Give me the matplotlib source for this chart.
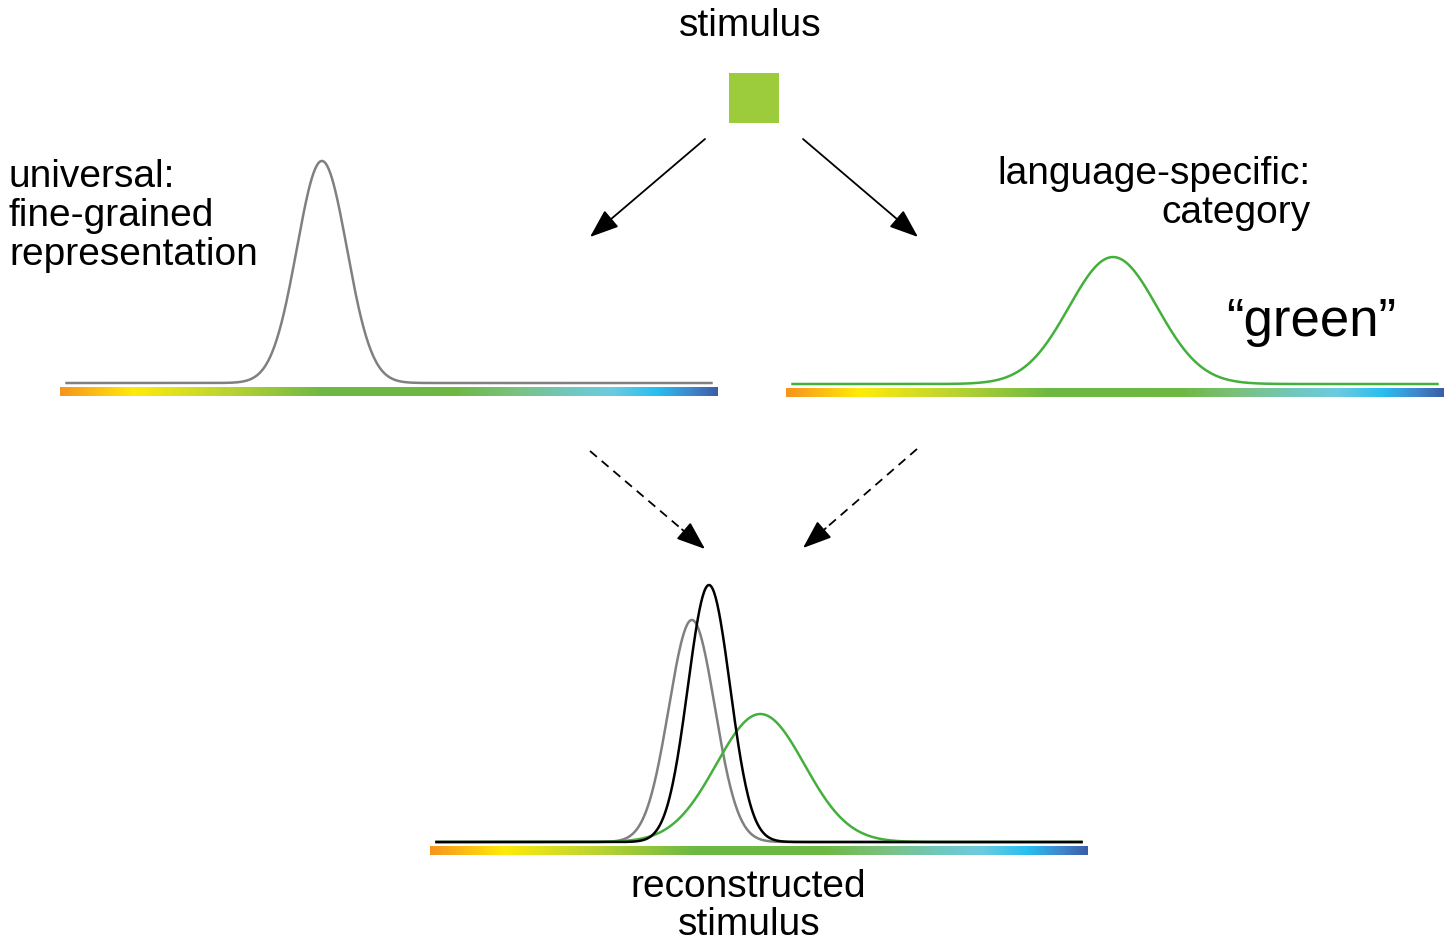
import numpy as np
import matplotlib
matplotlib.use("Agg")
import matplotlib.pyplot as plt
from matplotlib.colors import LinearSegmentedColormap

plt.rcParams['font.family'] = ['Liberation Sans', 'DejaVu Sans']

W, H = 1450, 943

# spectrum gradient (position along bar, colour)
spec_pos = [0.0, 0.11, 0.25, 0.40, 0.60, 0.69, 0.78, 0.84, 0.91, 0.96, 1.0]
spec_col = ['#F7941D', '#FFEB0A', '#BCD431', '#6DB843', '#6DB843', '#7BC17E',
            '#70C8C0', '#6CCBE0', '#27BEF0', '#3F88CC', '#3B5EA9']

# curves: centre on spectrum (0..1), sd, peak height (1 = tallest peak)
univ_mu, univ_sd, univ_h = 0.398, 0.038, 0.864
cat_mu, cat_sd, cat_h = 0.497, 0.067, 0.494
rec_gray = (0.398, 0.035, 0.864)
rec_green = (0.502, 0.067, 0.498)
rec_black = (0.424, 0.032, 1.0)

gray = '#808080'
green = '#43B03B'

cmap = LinearSegmentedColormap.from_list('spec', list(zip(spec_pos, spec_col)))

fig = plt.figure(figsize=(W / 100, H / 100), dpi=100)
ax = fig.add_axes([0, 0, 1, 1])
ax.set_xlim(0, W)
ax.set_ylim(H, 0)
ax.axis('off')

PEAK_PX = 257.0   # pixels for height 1.0
BAR_W = 658.0


def panel(bar_left, base_y):
    top = base_y - PEAK_PX * 1.02
    bot = base_y + PEAK_PX * 0.055
    a = fig.add_axes([bar_left / W, 1 - bot / H, BAR_W / W, (bot - top) / H])
    a.set_xlim(0, 1)
    a.set_ylim(-0.055, 1.02)
    a.axis('off')
    a.patch.set_alpha(0)
    grad = np.linspace(0, 1, 512)[None, :]
    a.imshow(grad, cmap=cmap, aspect='auto', extent=(0, 1, -0.051, -0.016),
             interpolation='bilinear')
    return a


def curve(a, mu, sd, h, color, lw=1.8, z=2):
    x = np.linspace(0.008, 0.992, 800)
    a.plot(x, h * np.exp(-0.5 * ((x - mu) / sd) ** 2), color=color, lw=lw,
           zorder=z, solid_capstyle='butt')


left = panel(60, 383)
curve(left, univ_mu, univ_sd, univ_h, gray)

right = panel(786, 384)
curve(right, cat_mu, cat_sd, cat_h, green)

bottom = panel(430, 842)
curve(bottom, *rec_gray, gray, z=2)
curve(bottom, *rec_green, green, z=3)
curve(bottom, *rec_black, 'black', z=4)

# stimulus square
ax.add_patch(plt.Rectangle((729, 73), 50, 50, color='#9CCB3B', lw=0))

# arrows
head = dict(arrowstyle='-|>,head_length=0.85,head_width=0.32', mutation_scale=21,
            color='black', lw=1.3, shrinkA=0, shrinkB=0)
ax.annotate('', xy=(590, 237), xytext=(705, 139), arrowprops=head)
ax.annotate('', xy=(918, 237), xytext=(803, 139), arrowprops=head)

for (x0, y0), (x1, y1) in [((590, 451), (705, 549)), ((917, 449), (803, 548))]:
    ax.plot([x0, x0 + 0.85 * (x1 - x0)], [y0, y0 + 0.85 * (y1 - y0)],
            color='black', lw=1.3, dashes=(5, 3.5))
    ax.annotate('', xy=(x1, y1), xytext=(x0 + 0.8 * (x1 - x0), y0 + 0.8 * (y1 - y0)),
                arrowprops=head)

fs = 28
ax.text(750, 36, 'stimulus', fontsize=fs, ha='center', va='baseline')
for s, y in zip(['universal:', 'fine-grained', 'representation'], [187, 226, 265]):
    ax.text(9, y, s, fontsize=fs, ha='left', va='baseline')
for s, y in zip(['language-specific:', 'category'], [184, 223]):
    ax.text(1311, y, s, fontsize=fs, ha='right', va='baseline')
ax.text(1226, 336, '\u201cgreen\u201d', fontsize=38, ha='left', va='baseline')
ax.text(748, 897, 'reconstructed', fontsize=fs, ha='center', va='baseline')
ax.text(749, 935, 'stimulus', fontsize=fs, ha='center', va='baseline')

fig.savefig('out.png', dpi=100)
